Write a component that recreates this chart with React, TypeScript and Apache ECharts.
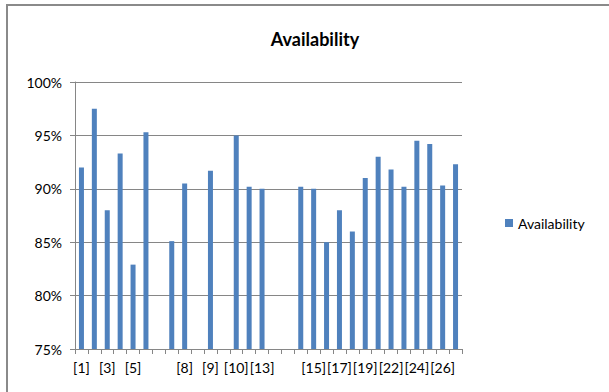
import React, { useEffect, useRef } from "react";
import * as echarts from "echarts";

const categories = [
  "[1]", "[2]", "[3]", "[4]", "[5]", "[6]", "", "[7]", "[8]", "",
  "[9]", "", "[10]", "[11]", "[13]", "", "", "[14]", "[15]", "[16]",
  "[17]", "[18]", "[19]", "[21]", "[22]", "[23]", "[24]", "[25]", "[26]", "[27]",
];

const availability: (number | null)[] = [
  92.0, 97.5, 88.0, 93.3, 82.9, 95.3, null, 85.1, 90.5, null,
  91.7, null, 95.0, 90.2, 90.0, null, null, 90.2, 90.0, 85.0,
  88.0, 86.0, 91.0, 93.0, 91.8, 90.2, 94.5, 94.2, 90.3, 92.3,
];

const yTicks = { min: 75, max: 100, step: 5 };

const FONT = "Lato, 'Open Sans', sans-serif";

export default function App() {
  const ref = useRef<HTMLDivElement>(null);
  useEffect(() => {
    if (!ref.current) return;
    const chart = echarts.init(ref.current, undefined, { renderer: "svg" });
    chart.setOption({
      animation: false,
      backgroundColor: "#ffffff",
      textStyle: { fontFamily: FONT },
      title: {
        text: "Availability",
        left: 310,
        textAlign: "center",
        top: 25,
        textStyle: { fontSize: 18, fontWeight: "bold", color: "#000", fontFamily: FONT },
      },
      graphic: [
        {
          type: "rect",
          shape: { x: 7, y: 5, width: 700, height: 500 },
          style: { fill: "none", stroke: "#8a8a8a", lineWidth: 2 },
          silent: true,
        },
      ],
      legend: {
        left: 500,
        top: 211,
        icon: "rect",
        itemWidth: 8,
        itemHeight: 8,
        itemGap: 4,
        textStyle: { fontSize: 14, color: "#000", fontFamily: FONT },
        data: ["Availability"],
      },
      grid: { left: 75, right: 147, top: 82, bottom: 43, containLabel: false },
      xAxis: {
        type: "category",
        data: categories,
        boundaryGap: true,
        axisLine: { lineStyle: { color: "#868686", width: 1 } },
        axisTick: { show: true, interval: 0, length: 5, lineStyle: { color: "#868686" } },
        axisLabel: { interval: 1, fontSize: 14, color: "#000", margin: 11, fontFamily: FONT },
        splitLine: { show: false },
      },
      yAxis: {
        type: "value",
        min: yTicks.min,
        max: yTicks.max,
        interval: yTicks.step,
        axisLine: { show: true, lineStyle: { color: "#868686", width: 1 } },
        axisTick: { show: true, length: 5, lineStyle: { color: "#868686" } },
        axisLabel: { formatter: "{value}%", fontSize: 14, color: "#000", margin: 13, fontFamily: FONT },
        splitLine: { show: true, lineStyle: { color: "#868686", width: 1 } },
      },
      series: [
        {
          name: "Availability",
          type: "bar",
          data: availability,
          barWidth: 5,
          itemStyle: { color: "#4F81BD" },
        },
      ],
    });
    return () => chart.dispose();
  }, []);
  return (
    <div
      ref={ref}
      style={{ position: "fixed", left: 0, top: 0, width: 609, height: 392 }}
    />
  );
}
